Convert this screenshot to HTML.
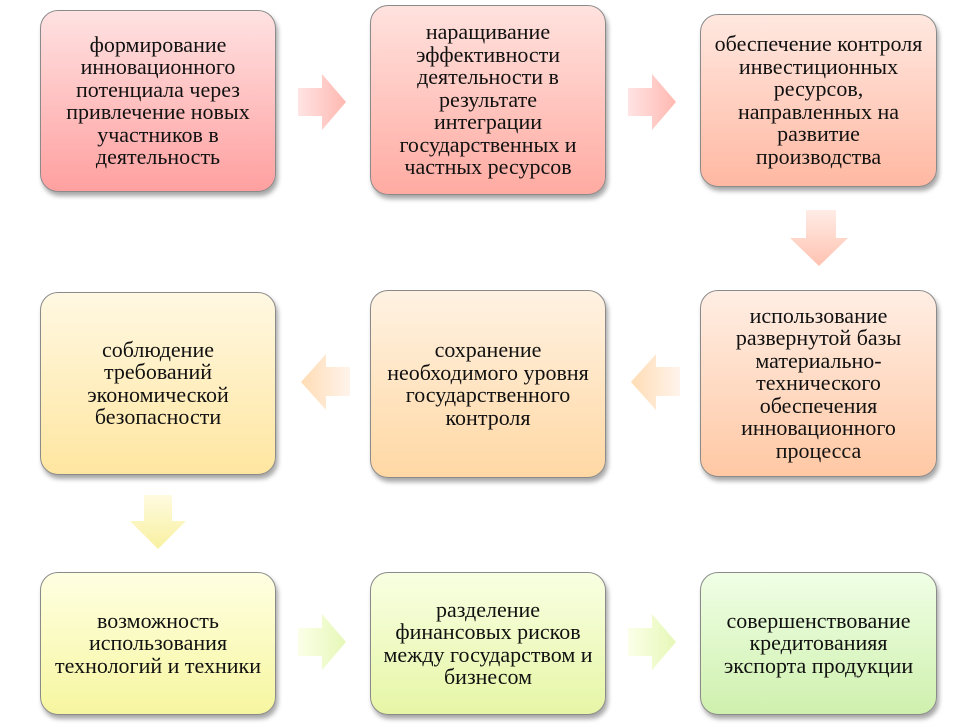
<!DOCTYPE html>
<html><head><meta charset="utf-8"><style>
body{margin:0;width:977px;height:727px;background:#fff;position:relative;overflow:hidden}
.b{position:absolute;box-sizing:border-box;border:1.5px solid #8a8a8a;border-radius:18px;display:flex;align-items:center;justify-content:center;text-align:center;font-family:"Liberation Serif","DejaVu Serif",serif;font-size:22px;line-height:22.5px;color:#111;box-shadow:2px 4px 5px rgba(0,0,0,.35);padding:0 9px}
svg{position:absolute;left:0;top:0}
</style></head><body>
<svg width="977" height="727">
<defs>
<linearGradient id="gr" x1="0" x2="1"><stop offset="0" stop-color="#ffe4e4"/><stop offset="1" stop-color="#ffb8b0"/></linearGradient>
<linearGradient id="gd" x1="0" y1="0" x2="0" y2="1"><stop offset="0" stop-color="#ffece6"/><stop offset="1" stop-color="#ffc2b0"/></linearGradient>
<linearGradient id="gl" x1="1" x2="0"><stop offset="0" stop-color="#fff4ec"/><stop offset="1" stop-color="#ffdcb4"/></linearGradient>
<linearGradient id="gd2" x1="0" y1="0" x2="0" y2="1"><stop offset="0" stop-color="#fffbe0"/><stop offset="1" stop-color="#f8f0a0"/></linearGradient>
<linearGradient id="gr3" x1="0" x2="1"><stop offset="0" stop-color="#fbffe8"/><stop offset="1" stop-color="#e6f8b8"/></linearGradient>
</defs>
<g fill="url(#gr)"><polygon points="298,88 322,88 322,74 346,102 322,130 322,116 298,116"/><polygon points="628,88 652,88 652,74 676,102 652,130 652,116 628,116"/></g>
<polygon fill="url(#gd)" points="806,210 836,210 836,238 848,238 819,266 790,238 806,238"/>
<g fill="url(#gl)"><polygon points="680,367 656,367 656,354 631,382 656,410 656,396 680,396"/><polygon points="350,367 326,367 326,354 301,382 326,410 326,396 350,396"/></g>
<polygon fill="url(#gd2)" points="144,495 172,495 172,521 186,521 158,549 130,521 144,521"/>
<g fill="url(#gr3)"><polygon points="298,628 322,628 322,614 346,642 322,670 322,656 298,656"/><polygon points="628,628 652,628 652,614 676,642 652,670 652,656 628,656"/></g>
</svg>
<div class="b" style="left:40px;top:10px;width:236px;height:182px;background:linear-gradient(#ffe2e2,#ffa0a0)">формирование инновационного потенциала через привлечение новых участников в деятельность</div>
<div class="b" style="left:370px;top:5px;width:236px;height:190px;background:linear-gradient(#ffe2de,#ffaba2);padding:0 20px">наращивание эффективности деятельности в результате интеграции государственных и частных ресурсов</div>
<div class="b" style="left:700px;top:14px;width:237px;height:173px;background:linear-gradient(#ffe8e0,#ffb8a2);white-space:nowrap;padding:0">обеспечение контроля<br>инвестиционных<br>ресурсов,<br>направленных на<br>развитие<br>производства</div>
<div class="b" style="left:40px;top:292px;width:236px;height:183px;background:linear-gradient(#fff8e2,#ffe6a0)">соблюдение требований экономической безопасности</div>
<div class="b" style="left:370px;top:290px;width:236px;height:188px;background:linear-gradient(#fff2e2,#ffd8a4)">сохранение необходимого уровня государственного контроля</div>
<div class="b" style="left:700px;top:290px;width:237px;height:187px;background:linear-gradient(#ffeee4,#ffc8a4)">использование развернутой базы материально-технического обеспечения инновационного процесса</div>
<div class="b" style="left:40px;top:572px;width:236px;height:143px;background:linear-gradient(#ffffe2,#f6f6a0)">возможность использования технологий и техники</div>
<div class="b" style="left:370px;top:572px;width:236px;height:143px;background:linear-gradient(#f8ffe2,#e6f6a6)">разделение финансовых рисков между государством и бизнесом</div>
<div class="b" style="left:700px;top:572px;width:237px;height:143px;background:linear-gradient(#f0ffe6,#cff0ae)">совершенствование кредитованияя экспорта продукции</div>
</body></html>
